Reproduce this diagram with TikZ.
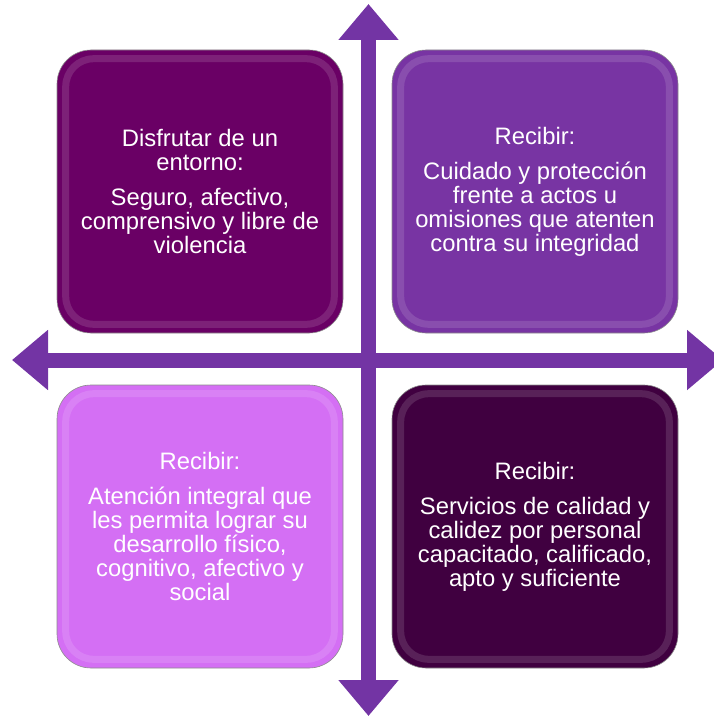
\documentclass[tikz,border=0pt]{standalone}
\usepackage{fontspec}
\setmainfont{Liberation Sans}
\usetikzlibrary{arrows.meta}
\definecolor{tlcol}{HTML}{6A0065}
\definecolor{trcol}{HTML}{7834A3}
\definecolor{blcol}{HTML}{D46FF4}
\definecolor{brcol}{HTML}{400040}
\definecolor{axiscol}{HTML}{7334A4}
\tikzset{
  quad/.style={rectangle, rounded corners=34pt, minimum width=286pt, minimum height=283pt,
    draw=black!45, line width=.6pt, text=white, align=center,
    font=\fontsize{23.8}{24}\selectfont},
  rim/.style={draw=white, draw opacity=.13, line width=7pt, rounded corners=28pt},
  axis/.style={draw=axiscol, line width=15pt,
    {Triangle[width=58pt,length=36pt]}-{Triangle[width=58pt,length=36pt]}}
}
\begin{document}
\begin{tikzpicture}[x=1pt, y=-1pt]
      \useasboundingbox (0,0) rectangle (713,717);
      % the cross
      \coordinate (top) at (368.5,4);
      \coordinate (bottom) at (368.5,716);
      \coordinate (left) at (12,360);
      \coordinate (right) at (723,360);
      \draw[axis] (top) -- (bottom);
      \draw[axis] (left) -- (right);
      % the four boxes
      \node[quad, fill=tlcol] (TL) at (200,191.5) {Disfrutar de un\\entorno:\\[11pt]Seguro, afectivo,\\comprensivo y libre de\\violencia};
      \node[quad, fill=trcol] (TR) at (535,191.5) {Recibir:\\[11pt]Cuidado y protección\\frente a actos u\\omisiones que atenten\\contra su integridad};
      \node[quad, fill=blcol] (BL) at (200,526.5) {Recibir:\\[11pt]Atención integral que\\les permita lograr su\\desarrollo físico,\\cognitivo, afectivo y\\social};
      \node[quad, fill=brcol] (BR) at (535,526.5) {Recibir:\\[11pt]Servicios de calidad y\\calidez por personal\\capacitado, calificado,\\apto y suficiente};
      \foreach \b in {TL,TR,BL,BR}
        \draw[rim] ([shift={(9,9)}]\b.north west) rectangle ([shift={(-9,-9)}]\b.south east);
   \end{tikzpicture}
\end{document}
